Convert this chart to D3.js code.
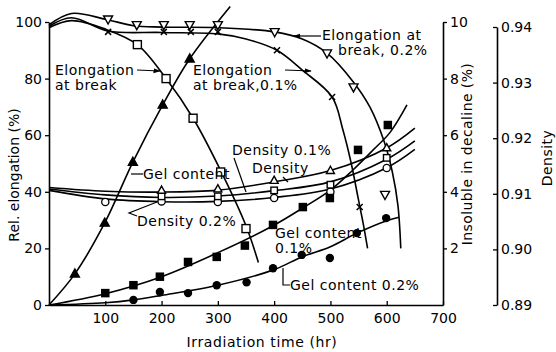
<!DOCTYPE html>
<html>
<head>
<meta charset="utf-8">
<script src="https://cdn.jsdelivr.net/npm/d3@7"></script>
<style>
  body { margin: 0; background: #fff; }
  svg { display: block; }
  text { font-family: "DejaVu Sans", sans-serif; fill: #000; }
</style>
</head>
<body>
<svg id="chart" width="556" height="352"></svg>
<script>
// ---- axis ticks ----
const timeTicks = [100, 200, 300, 400, 500, 600, 700];
const elongTicks = [0, 20, 40, 60, 80, 100];
const insolTicks = [2, 4, 6, 8, 10];
const densTicks = [0.89, 0.90, 0.91, 0.92, 0.93, 0.94];

// ---- elongation at break, unstabilised (open squares) ----
const elong0Pts = [[157, 92], [208, 80], [256, 66], [305, 47], [350, 27]];
const elong0Fit = [[0, 98], [40, 100.5], [100, 97.5], [157, 92], [208, 80], [256, 66], [305, 47.5], [350, 28], [372, 15]];

// ---- elongation at break, 0.1 % (crosses) ----
const elong01Pts = [[105, 96.5], [204, 96.5], [252, 96.5], [300, 96.5], [405, 90], [503, 73.5], [552, 34.6]];
const elong01Fit = [[0, 98.5], [40, 101.5], [105, 96.8], [200, 96.3], [300, 95.8], [350, 94], [405, 90], [450, 83], [503, 73.5], [522, 62], [537, 50], [549, 38], [558, 29], [566, 20]];

// ---- elongation at break, 0.2 % (open down-triangles) ----
const elong02Pts = [[105, 101], [156, 99], [204, 99], [250, 99], [300, 99], [401, 96.5], [494, 89], [541, 77], [597, 39]];
const elong02Fit = [[0, 99], [40, 103], [100, 101], [150, 98.7], [200, 98.2], [300, 98], [401, 96.5], [450, 94], [494, 89], [540, 79], [570, 70], [595, 58], [610, 47], [620, 35], [625, 20]];

// ---- gel content, unstabilised (filled triangles) ----
const gel0Pts = [[46, 11], [99, 29], [149, 50.5], [202, 70.7], [250, 87]];
const gel0Fit = [[0, 0], [46, 11], [99, 29], [149, 50.5], [202, 70.7], [250, 87], [322, 105.5]];

// ---- gel content, 0.1 % (filled squares) ----
const gel01Pts = [[100, 4.2], [150, 7], [197, 10], [247, 15.2], [298, 17], [348, 21], [398, 28.3], [451, 34.6], [499, 37.8], [549, 54.8], [602, 63.6]];
const gel01Fit = [[0, 0], [100, 4], [200, 10], [300, 18.5], [398, 28], [451, 34.3], [500, 40.6], [540, 47.7], [576, 54.8], [606, 61], [636, 70.7]];

// ---- gel content, 0.2 % (filled circles) ----
const gel02Pts = [[150, 1.8], [197, 4.6], [247, 4.2], [298, 7], [351, 8], [398, 13], [449, 17.7], [499, 16.6], [547, 25.4], [599, 30.7]];
const gel02Fit = [[0, 0], [100, 0.8], [150, 1.8], [200, 3.4], [300, 7], [400, 12.5], [449, 17], [500, 20.6], [547, 25.4], [600, 29.8], [622, 31]];

// ---- density, unstabilised (open triangles) ----
const dens0Pts = [[200, 40.5], [300, 41], [400, 44], [500, 47.5], [600, 55.5]];
const dens0Fit = [[0, 41.5], [100, 40.2], [200, 39.9], [300, 40.6], [400, 43.5], [500, 47.5], [600, 55.5], [650, 62.5]];

// ---- density, 0.1 % (open squares) ----
const dens01Pts = [[200, 38.4], [300, 38.4], [400, 40.5], [500, 42.5], [600, 52]];
const dens01Fit = [[0, 41], [100, 38.9], [200, 38], [300, 38.5], [400, 40.4], [500, 43.5], [600, 51.5], [650, 58]];

// ---- density, 0.2 % (open circles) ----
const dens02Pts = [[100, 36.4], [200, 36.6], [300, 36.4], [400, 37.8], [500, 40], [600, 48.4]];
const dens02Fit = [[0, 40.5], [100, 37.5], [200, 36.5], [300, 36.6], [400, 38], [500, 41], [600, 48.5], [650, 55]];

const svg = d3.select("#chart");

const x = d3.scaleLinear().domain([0, 700]).range([49, 443]);
const y = d3.scaleLinear().domain([0, 100]).range([305, 22]);
const yIns = d3.scaleLinear().domain([0, 10]).range([305, 22]);
const yDen = d3.scaleLinear().domain([0.89, 0.94]).range([305, 27]);

// arrowhead for annotation leaders
svg.append("defs").append("marker")
  .attr("id", "arrow").attr("viewBox", "0 0 10 10")
  .attr("refX", 9).attr("refY", 5)
  .attr("markerWidth", 6).attr("markerHeight", 6)
  .attr("orient", "auto")
  .append("path").attr("d", "M0,1.5L10,5L0,8.5Z").attr("fill", "#000");

function styleAxis(g) {
  g.select(".domain").attr("stroke", "#000").attr("stroke-width", 1.6);
  g.selectAll(".tick line").attr("stroke", "#000").attr("stroke-width", 1.3);
  g.selectAll("text").attr("font-size", 14).attr("font-family", "DejaVu Sans, sans-serif").attr("fill", "#000");
}

// left axis: relative elongation
svg.append("g").attr("transform", `translate(${x(0)},0)`)
  .call(d3.axisLeft(y).tickValues(elongTicks).tickSize(4).tickPadding(3).tickSizeOuter(0))
  .call(styleAxis);

// bottom axis: irradiation time
svg.append("g").attr("transform", `translate(0,${y(0)})`)
  .call(d3.axisBottom(x).tickValues(timeTicks).tickSizeInner(-4).tickSizeOuter(0).tickPadding(8))
  .call(styleAxis);

// right axis: insoluble in decaline
svg.append("g").attr("transform", `translate(${x(700)},0)`)
  .call(d3.axisRight(yIns).tickValues(insolTicks).tickSize(4).tickPadding(3).tickSizeOuter(0))
  .call(styleAxis);

// outer right axis: density
svg.append("g").attr("transform", "translate(497,0)")
  .call(d3.axisRight(yDen).tickValues(densTicks).tickSizeInner(-4).tickSizeOuter(0).tickPadding(4)
    .tickFormat(d3.format(".2f")))
  .call(styleAxis);

// axis titles
svg.append("text").attr("transform", "translate(19,175) rotate(-90)")
  .attr("text-anchor", "middle").attr("font-size", 14).text("Rel. elongation (%)");
svg.append("text").attr("x", 262).attr("y", 347)
  .attr("text-anchor", "middle").attr("font-size", 14).attr("letter-spacing", 0.6).text("Irradiation time (hr)");
svg.append("text").attr("transform", "translate(472,154) rotate(-90)")
  .attr("text-anchor", "middle").attr("font-size", 14).attr("letter-spacing", 0.4).text("Insoluble in decaline (%)");
svg.append("text").attr("transform", "translate(552,158) rotate(-90)")
  .attr("text-anchor", "middle").attr("font-size", 14).attr("letter-spacing", 0.5).text("Density");

// fitted curves
const line = d3.line()
  .x(d => x(d[0])).y(d => y(d[1]))
  .curve(d3.curveCatmullRom.alpha(0.5));

const fits = [elong0Fit, elong01Fit, elong02Fit, gel0Fit, gel01Fit, gel02Fit, dens0Fit, dens01Fit, dens02Fit];
svg.append("g").selectAll("path").data(fits).join("path")
  .attr("d", line).attr("fill", "none").attr("stroke", "#000").attr("stroke-width", 1.6);

// markers
const mk = svg.append("g");
function openSquare(pts, s) {
  mk.append("g").selectAll("rect").data(pts).join("rect")
    .attr("x", d => x(d[0]) - s / 2).attr("y", d => y(d[1]) - s / 2)
    .attr("width", s).attr("height", s)
    .attr("fill", "#fff").attr("stroke", "#000").attr("stroke-width", 1.4);
}
function filledSquare(pts, s) {
  mk.append("g").selectAll("rect").data(pts).join("rect")
    .attr("x", d => x(d[0]) - s / 2).attr("y", d => y(d[1]) - s / 2)
    .attr("width", s).attr("height", s).attr("fill", "#000");
}
function circles(pts, r, filled) {
  mk.append("g").selectAll("circle").data(pts).join("circle")
    .attr("cx", d => x(d[0])).attr("cy", d => y(d[1])).attr("r", r)
    .attr("fill", filled ? "#000" : "#fff").attr("stroke", "#000").attr("stroke-width", filled ? 0 : 1.3);
}
function triangles(pts, s, up, filled) {
  const h = s * 0.9;
  const p = up
    ? `M0,${-h * 0.6}L${s / 2},${h * 0.4}L${-s / 2},${h * 0.4}Z`
    : `M0,${h * 0.6}L${s / 2},${-h * 0.4}L${-s / 2},${-h * 0.4}Z`;
  mk.append("g").selectAll("path").data(pts).join("path")
    .attr("transform", d => `translate(${x(d[0])},${y(d[1])})`).attr("d", p)
    .attr("fill", filled ? "#000" : "#fff").attr("stroke", "#000").attr("stroke-width", 1.4)
    .attr("stroke-linejoin", "miter");
}
function crosses(pts, s) {
  const a = s / 2;
  mk.append("g").selectAll("path").data(pts).join("path")
    .attr("transform", d => `translate(${x(d[0])},${y(d[1])})`)
    .attr("d", `M${-a},${-a}L${a},${a}M${a},${-a}L${-a},${a}`)
    .attr("stroke", "#000").attr("stroke-width", 1.5).attr("fill", "none");
}

circles(dens02Pts, 3.6, false);
openSquare(dens01Pts, 6.5);
triangles(dens0Pts, 8, true, false);
openSquare(elong0Pts, 8);
triangles(elong02Pts, 9, false, false);
crosses(elong01Pts, 6);
triangles(gel0Pts, 9, true, true);
filledSquare(gel01Pts, 8.5);
circles(gel02Pts, 4.2, true);

// annotations
const ann = svg.append("g").attr("font-size", 14).attr("letter-spacing", 0.5);
function note(txt, px, py) { ann.append("text").attr("x", px).attr("y", py).text(txt); }
function leader(pts, arrow) {
  const p = ann.append("path").attr("d", d3.line()(pts))
    .attr("fill", "none").attr("stroke", "#000").attr("stroke-width", 1.2);
  if (arrow) p.attr("marker-end", "url(#arrow)");
}

note("Elongation", 55, 75);
note("at break", 55, 90);
leader([[137, 70], [160, 71]], true);

note("Elongation", 193, 75);
note("at break,0.1%", 193, 90);
leader([[285, 70], [311, 71]], true);

note("Elongation at", 322, 40);
note("break, 0.2%", 338, 55);
leader([[321, 36], [294, 36]], true);

note("Gel content", 143, 179);
leader([[131, 174], [143, 174]], false);

note("Density 0.2%", 137, 226);
leader([[137, 216], [129, 213], [157, 202]], false);

note("Density 0.1%", 232, 155);
leader([[234, 158], [246, 192]], false);

note("Density", 252, 173);
leader([[283, 177], [288, 182]], false);

note("Gel content", 275, 238);
note("0.1%", 275, 253);

note("Gel content 0.2%", 290, 290);
leader([[283, 268], [283, 285], [290, 285]], false);
</script>
</body>
</html>
